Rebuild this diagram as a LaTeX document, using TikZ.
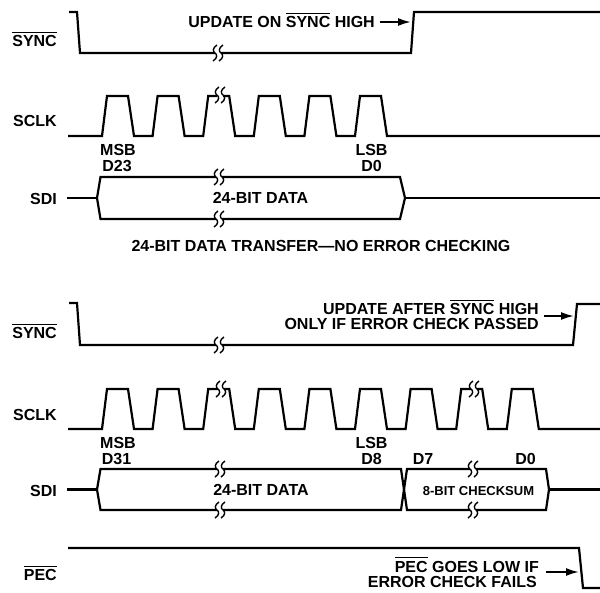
\documentclass[tikz,border=0pt]{standalone}
\usepackage{fontspec}
\setmainfont{Liberation Sans}
\usetikzlibrary{arrows.meta}
\newcommand{\ovl}[1]{\leavevmode\vbox{\hrule height 1pt\kern 2.6pt\hbox{#1}}}
\begin{document}
\begin{tikzpicture}[x=1pt,y=-1pt,
  wave/.style={line width=2.2pt, line join=miter},
  lbl/.style={font=\fontsize{16}{17}\selectfont\bfseries, inner sep=0pt},
  smalllbl/.style={font=\fontsize{13}{14}\selectfont\bfseries, inner sep=0pt},
  arr/.style={line width=2pt, -{Latex[length=13pt,width=8pt]}},
  brk/.pic={
    \fill[white] (-3,-4) rectangle (3,4);
    \foreach \dx in {-3,3}{
      \draw[line width=1.4pt] ({\dx+2},-8) .. controls ({\dx-3},-5) and ({\dx-2},-1) .. (\dx,0)
        .. controls ({\dx+2},1) and ({\dx+3},5) .. ({\dx-2},8);
    }
  }
]
\useasboundingbox (0,0) rectangle (600,592);

% ---------- top: 24-bit transfer ----------
\node[lbl, anchor=base east] (sync1) at (57,46.5) {\ovl{SYNC}};
\node[lbl, anchor=base east] (sclk1) at (57,126.5) {SCLK};
\node[lbl, anchor=base east] (sdi1) at (57,204.5) {SDI};

\draw[wave] (69,12) -- (77,12) -- (80,53) -- (411,53) -- (414,12) -- (600,12);
\node[lbl, anchor=base east] (upd1) at (375,27.5) {UPDATE ON \ovl{SYNC} HIGH};
\coordinate (a1s) at (380,22);
\coordinate (a1e) at (411,22);
\draw[arr] (a1s) -- (a1e);

\draw[wave] (68,136) \foreach \k in {0,...,5}{ -- ({102+50.6*\k},136) -- ++(5,-40) -- ++(21,0) -- ++(6,40)} -- (600,136);

\node[lbl, anchor=base] (msb1) at (118,155) {MSB};
\node[lbl, anchor=base] (d23) at (117,171) {D23};
\node[lbl, anchor=base] (lsb1) at (371.5,155) {LSB};
\node[lbl, anchor=base] (d0a) at (371.5,171) {D0};

\draw[wave] (67,198) -- (97,198);
\draw[wave] (97,198) -- (100.5,177) -- (400,177) -- (405,198) -- (400,219) -- (100.5,219) -- cycle;
\draw[wave] (405,198) -- (600,198);
\node[lbl, anchor=base] (data1) at (260.5,203.5) {24-BIT DATA};

\node[lbl, anchor=base] (cap1) at (321,251) {24-BIT DATA TRANSFER---NO ERROR CHECKING};

\pic at (218,53) {brk};
\pic at (220,95) {brk};
\pic at (219,177) {brk};
\pic at (219,219) {brk};

% ---------- bottom: with error checking ----------
\node[lbl, anchor=base east] (sync2) at (57,338.5) {\ovl{SYNC}};
\node[lbl, anchor=base east] (sclk2) at (57,420.5) {SCLK};
\node[lbl, anchor=base east] (sdi2) at (57,496.5) {SDI};
\node[lbl, anchor=base east] (pec) at (57,580.5) {\ovl{PEC}};

\draw[wave] (69,303) -- (77,303) -- (80,345) -- (573,345) -- (577,304) -- (600,304);
\node[lbl, anchor=base east] (upd2a) at (539,314.5) {UPDATE AFTER \ovl{SYNC} HIGH};
\node[lbl, anchor=base east] (upd2b) at (539,329.5) {ONLY IF ERROR CHECK PASSED};
\coordinate (a2s) at (544,316);
\coordinate (a2e) at (574,316);
\draw[arr] (a2s) -- (a2e);

\draw[wave] (68,429) \foreach \k in {0,...,8}{ -- ({102+50.6*\k},429) -- ++(5,-40) -- ++(21,0) -- ++(6,40)} -- (600,429);

\node[lbl, anchor=base] (msb2) at (118,448) {MSB};
\node[lbl, anchor=base] (d31) at (116.5,464) {D31};
\node[lbl, anchor=base] (lsb2) at (371.5,448) {LSB};
\node[lbl, anchor=base] (d8) at (371.5,464) {D8};
\node[lbl, anchor=base] (d7) at (423,464) {D7};
\node[lbl, anchor=base] (d0b) at (525.5,464) {D0};

\draw[wave] (67,489.5) -- (97,489.5);
\draw[wave] (97,489.5) -- (100.5,469) -- (401,469) -- (404,489.5) -- (401,510) -- (100.5,510) -- cycle;
\draw[wave] (404,489.5) -- (407,469) -- (546,469) -- (549,489.5) -- (546,510) -- (407,510) -- cycle;
\draw[wave] (549,489.5) -- (600,489.5);
\node[lbl, anchor=base] (data2) at (261,495) {24-BIT DATA};
\node[smalllbl, anchor=base] (chk) at (478.5,495) {8-BIT CHECKSUM};

\draw[wave] (68,548) -- (579,548) -- (583,588) -- (600,588);
\node[lbl, anchor=base east] (pec1) at (539,572) {\ovl{PEC} GOES LOW IF};
\node[lbl, anchor=base east] (pec2) at (537,587) {ERROR CHECK FAILS};
\coordinate (a3s) at (546,572);
\coordinate (a3e) at (579,572);
\draw[arr] (a3s) -- (a3e);

\pic at (219,345) {brk};
\pic at (221,389) {brk};
\pic at (474,389) {brk};
\pic at (220,469) {brk};
\pic at (220,510) {brk};
\pic at (473,469) {brk};
\pic at (473,510) {brk};
\end{tikzpicture}
\end{document}
